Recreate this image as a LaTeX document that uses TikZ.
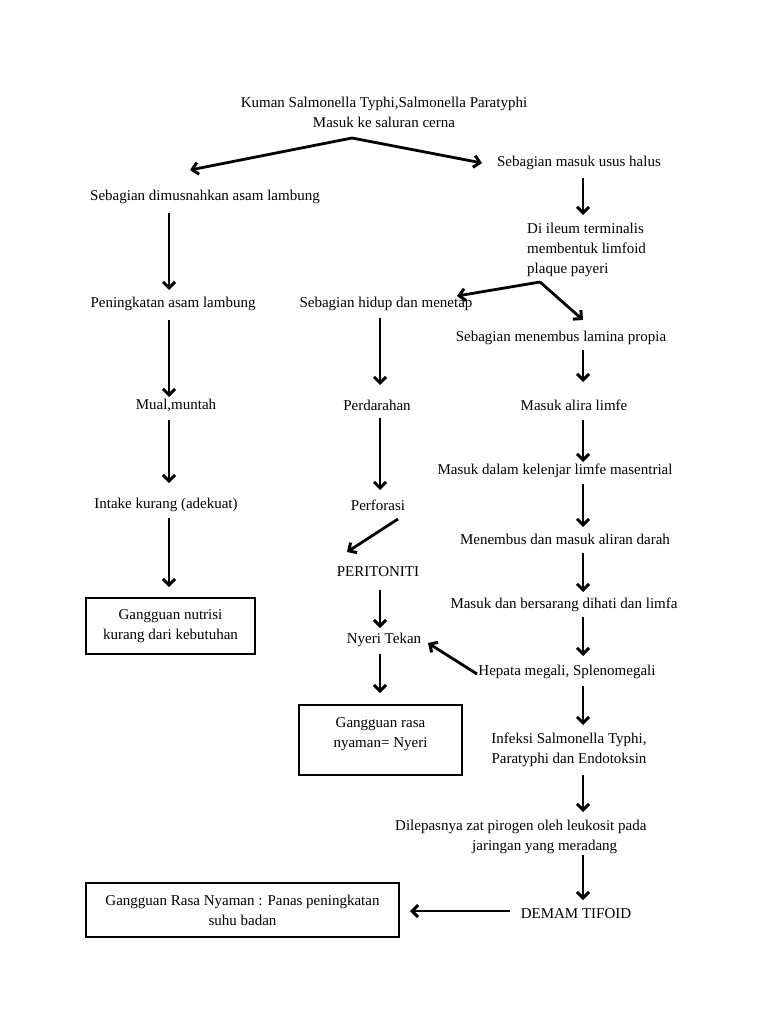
\documentclass[tikz,border=0pt]{standalone}
\usepackage{fontspec}
\setmainfont{Liberation Serif}
\usetikzlibrary{arrows.meta}
\begin{document}
\begin{tikzpicture}[x=1pt,y=-1pt,
  every node/.style={font=\fontsize{15}{20}\selectfont, inner sep=2pt},
  box/.style={draw, line width=2pt, align=center},
  arr/.style={line width=2.8pt, -{Straight Barb[length=6pt,width=12pt,line width=3pt]}}]
\fill[white] (0,0) rectangle (768,1024);
\useasboundingbox (0,0) rectangle (768,1024);
% top
\node[align=center] (t1) at (384,112) {Kuman Salmonella Typhi,Salmonella Paratyphi\\Masuk ke saluran cerna};
% left column
\node (L1) at (205,197) {Sebagian dimusnahkan asam lambung};
\node (L2) at (173,304) {Peningkatan asam lambung};
\node (L3) at (176,405) {Mual,muntah};
\node (L4) at (166,505) {Intake kurang (adekuat)};
\node[box, minimum width=169pt, minimum height=56pt] (L5) at (170.5,626) {Gangguan nutrisi\\kurang dari kebutuhan};
% middle column
\node (M1) at (386,304) {Sebagian hidup dan menetap};
\node (M2) at (377,405) {Perdarahan};
\node (M3) at (378,505) {Perforasi};
\node (M4) at (378,572) {PERITONITI};
\node (M5) at (384,640) {Nyeri Tekan};
\node[box, minimum width=163pt, minimum height=70pt] (M6) at (380.5,740) {};
\node[align=center] (M6t) at (380.5,734) {Gangguan rasa\\nyaman= Nyeri};
% right column
\node (R1) at (579,163) {Sebagian masuk usus halus};
\node[align=left, anchor=west] (R2) at (525,250) {Di ileum terminalis\\membentuk limfoid\\plaque payeri};
\node (R3) at (561,338) {Sebagian menembus lamina propia};
\node (R4) at (574,405) {Masuk alira limfe};
\node (R5) at (555,471) {Masuk dalam kelenjar limfe masentrial};
\node (R6) at (565,539) {Menembus dan masuk aliran darah};
\node (R7) at (564,605) {Masuk dan bersarang dihati dan limfa};
\node (R8) at (567,672) {Hepata megali, Splenomegali};
\node[align=center] (R9) at (569,750) {Infeksi Salmonella Typhi,\\Paratyphi dan Endotoksin};
\node[align=left, anchor=west] (R10) at (393,837) {Dilepasnya zat pirogen oleh leukosit pada\\\hspace*{77pt}jaringan yang meradang};
\node (R11) at (576,914) {DEMAM TIFOID};
\node[box, minimum width=313pt, minimum height=54pt] (B3) at (242.5,910) {Gangguan Rasa Nyaman : Panas peningkatan\\suhu badan};
% arrows
\draw[arr] ([shift={(-32,26)}]t1.center) -- ([shift={(-15,-27)}]L1.center);
\draw[arr] ([shift={(-32,26)}]t1.center) -- ([shift={(-97,0)}]R1.center);
\draw[arr] ([shift={(-36,16)}]L1.center) -- ([shift={(-4,-14)}]L2.center);
\draw[arr] ([shift={(4,15)}]R1.center) -- ([shift={(58,-35)}]R2.west);
\draw[arr] ([shift={(-4,16)}]L2.center) -- ([shift={(-7,-8)}]L3.center);
\draw[arr] ([shift={(15,32)}]R2.west) -- ([shift={(71,-8)}]M1.center);
\draw[arr] ([shift={(15,32)}]R2.west) -- ([shift={(22,-18)}]R3.center);
\draw[arr] ([shift={(-6,14)}]M1.center) -- ([shift={(3,-20)}]M2.center);
\draw[arr] ([shift={(22,12)}]R3.center) -- ([shift={(9,-23)}]R4.center);
\draw[arr] ([shift={(-7,15)}]L3.center) -- ([shift={(3,-22)}]L4.center);
\draw[arr] ([shift={(3,13)}]M2.center) -- ([shift={(2,-15)}]M3.center);
\draw[arr] ([shift={(9,15)}]R4.center) -- ([shift={(28,-9)}]R5.center);
\draw[arr] ([shift={(3,13)}]L4.center) -- ([shift={(-1.5,-10)}]L5.north);
\draw[arr] ([shift={(20,14)}]M3.center) -- ([shift={(-31,-20)}]M4.center);
\draw[arr] ([shift={(28,13)}]R5.center) -- ([shift={(18,-12)}]R6.center);
\draw[arr] ([shift={(2,18)}]M4.center) -- ([shift={(-4,-12)}]M5.center);
\draw[arr] ([shift={(18,14)}]R6.center) -- ([shift={(19,-13)}]R7.center);
\draw[arr] ([shift={(19,12)}]R7.center) -- ([shift={(16,-16)}]R8.center);
\draw[arr] ([shift={(-90,2)}]R8.center) -- ([shift={(44,3)}]M5.center);
\draw[arr] ([shift={(-4,14)}]M5.center) -- ([shift={(-0.5,-11)}]M6.north);
\draw[arr] ([shift={(16,14)}]R8.center) -- ([shift={(14,-25)}]R9.center);
\draw[arr] ([shift={(14,25)}]R9.center) -- ([shift={(190,-25)}]R10.west);
\draw[arr] ([shift={(190,18)}]R10.west) -- ([shift={(7,-14)}]R11.center);
\draw[arr] ([shift={(-66,-3)}]R11.center) -- ([shift={(10,1)}]B3.east);
\end{tikzpicture}
\end{document}
